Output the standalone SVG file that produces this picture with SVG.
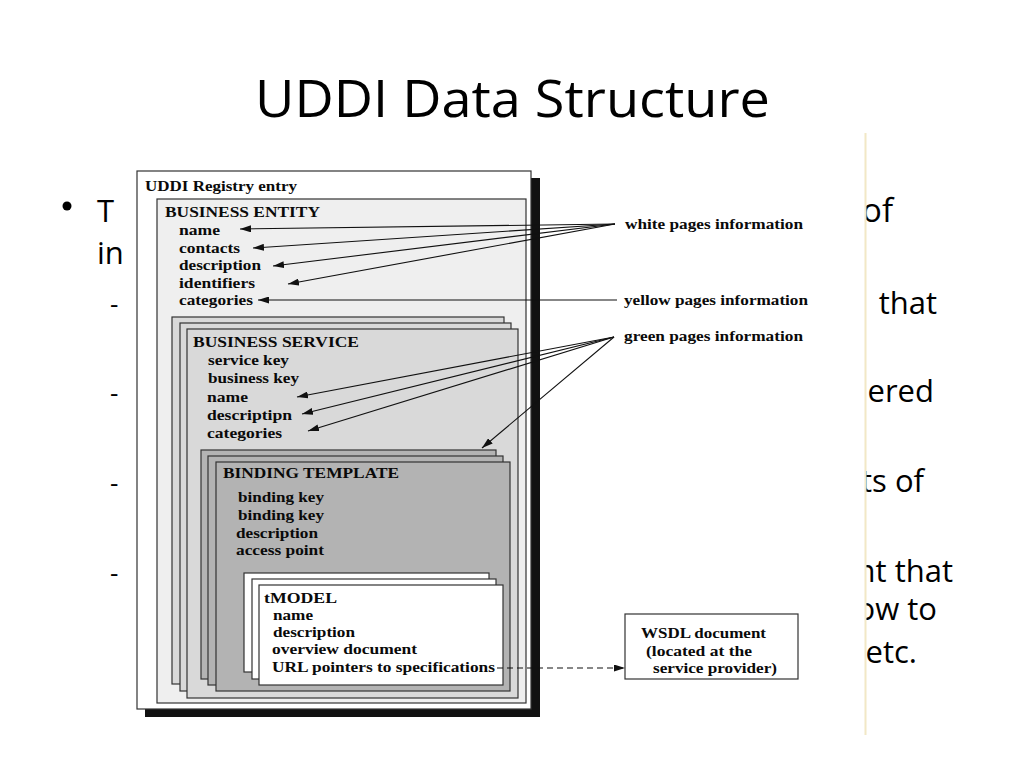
<svg xmlns="http://www.w3.org/2000/svg" width="1024" height="768" viewBox="0 0 1024 768">
<style>
.slide{font-family:"Open Sans","Liberation Sans",sans-serif;fill:#000}
.t{font-family:"Liberation Serif","Times New Roman",serif;font-weight:bold;font-size:14.5px;fill:#0a0a0a}
.box{stroke:#333;stroke-width:1.2}
.white{fill:#ffffff}
.ent{fill:#efefef}
.svc{fill:#d9d9d9}
.bnd{fill:#b3b3b3}
.tm{fill:#ffffff}
.conn{stroke:#111;stroke-width:1.1;fill:none}
.dash{stroke:#111;stroke-width:1.1;fill:none;stroke-dasharray:6 4}
</style>
<defs>
<marker id="ah" markerUnits="userSpaceOnUse" markerWidth="11" markerHeight="7" refX="11" refY="3.5" orient="auto">
<path d="M0,0 L11,3.5 L0,7 z" fill="#111"/>
</marker>
</defs>
<rect x="0" y="0" width="1024" height="768" fill="#ffffff"/>
<g id="slide-title">
<text class="slide" x="255" y="117" font-size="52" textLength="515" lengthAdjust="spacingAndGlyphs">UDDI Data Structure</text>
</g>
<g id="slide-text">
<circle cx="67" cy="206" r="4.5" fill="#000"/>
<text class="slide" x="97" y="222" font-size="31">T</text>
<text class="slide" x="97" y="264" font-size="31">in</text>
<text class="slide" x="893" y="222" font-size="33" text-anchor="end">of</text>
<text class="slide" x="110" y="313" font-size="26">-</text>
<text class="slide" x="110" y="402" font-size="26">-</text>
<text class="slide" x="110" y="492" font-size="26">-</text>
<text class="slide" x="110" y="582" font-size="26">-</text>
<text class="slide" x="937" y="314" font-size="31" text-anchor="end">that</text>
<text class="slide" x="934" y="402" font-size="31" text-anchor="end">ered</text>
<text class="slide" x="924" y="492" font-size="31" text-anchor="end">ts of</text>
<text class="slide" x="953" y="582" font-size="31" text-anchor="end">nt that</text>
<text class="slide" x="937" y="620" font-size="31" text-anchor="end">ow to</text>
<text class="slide" x="917" y="663" font-size="31" text-anchor="end">etc.</text>
</g>
<rect x="122" y="133" width="743" height="602" fill="#ffffff"/>
<line x1="865.5" y1="133" x2="865.5" y2="735" stroke="#f2e8c6" stroke-width="2"/>
<g id="registry">
<rect x="145" y="178" width="395" height="539" fill="#111"/>
<rect class="box white" x="137" y="171" width="394" height="538"/>
<text class="t" x="145" y="191" textLength="152" lengthAdjust="spacingAndGlyphs">UDDI Registry entry</text>
</g>
<g id="business-entity">
<rect class="box ent" x="157" y="199" width="369" height="504"/>
<text class="t" x="165" y="217" textLength="155" lengthAdjust="spacingAndGlyphs">BUSINESS ENTITY</text>
<text class="t" x="179" y="235" textLength="41" lengthAdjust="spacingAndGlyphs">name</text>
<text class="t" x="179" y="253" textLength="61" lengthAdjust="spacingAndGlyphs">contacts</text>
<text class="t" x="179" y="270" textLength="82" lengthAdjust="spacingAndGlyphs">description</text>
<text class="t" x="179" y="288" textLength="76" lengthAdjust="spacingAndGlyphs">identifiers</text>
<text class="t" x="179" y="305" textLength="74" lengthAdjust="spacingAndGlyphs">categories</text>
</g>
<g id="business-service">
<rect class="box svc" x="172" y="317" width="332" height="367"/>
<rect class="box svc" x="180" y="323" width="331" height="368"/>
<rect class="box svc" x="187" y="329" width="331" height="369"/>
<text class="t" x="193" y="347" textLength="166" lengthAdjust="spacingAndGlyphs">BUSINESS SERVICE</text>
<text class="t" x="208" y="365" textLength="81" lengthAdjust="spacingAndGlyphs">service key</text>
<text class="t" x="208" y="383" textLength="91" lengthAdjust="spacingAndGlyphs">business key</text>
<text class="t" x="207" y="402" textLength="41" lengthAdjust="spacingAndGlyphs">name</text>
<text class="t" x="207" y="420" textLength="85" lengthAdjust="spacingAndGlyphs">descriptipn</text>
<text class="t" x="207" y="438" textLength="75" lengthAdjust="spacingAndGlyphs">categories</text>
</g>
<g id="binding-template">
<rect class="box bnd" x="201" y="450" width="295" height="229"/>
<rect class="box bnd" x="208" y="456" width="295" height="229"/>
<rect class="box bnd" x="216" y="462" width="294" height="229"/>
<text class="t" x="223" y="478" textLength="176" lengthAdjust="spacingAndGlyphs">BINDING TEMPLATE</text>
<text class="t" x="238" y="502" textLength="86" lengthAdjust="spacingAndGlyphs">binding key</text>
<text class="t" x="238" y="520" textLength="86" lengthAdjust="spacingAndGlyphs">binding key</text>
<text class="t" x="236" y="538" textLength="82" lengthAdjust="spacingAndGlyphs">description</text>
<text class="t" x="236" y="555" textLength="88" lengthAdjust="spacingAndGlyphs">access point</text>
</g>
<g id="tmodel">
<rect class="box tm" x="244" y="573" width="245" height="99"/>
<rect class="box tm" x="252" y="579" width="244" height="100"/>
<rect class="box tm" x="259" y="585" width="244" height="100"/>
<text class="t" x="264" y="603" textLength="73" lengthAdjust="spacingAndGlyphs">tMODEL</text>
<text class="t" x="273" y="620" textLength="40" lengthAdjust="spacingAndGlyphs">name</text>
<text class="t" x="273" y="637" textLength="82" lengthAdjust="spacingAndGlyphs">description</text>
<text class="t" x="272" y="654" textLength="145" lengthAdjust="spacingAndGlyphs">overview document</text>
<text class="t" x="272" y="672" textLength="223" lengthAdjust="spacingAndGlyphs">URL pointers to specifications</text>
</g>
<g id="wsdl-document">
<rect class="box white" x="625" y="614" width="173" height="65"/>
<text class="t" x="641" y="638" textLength="125" lengthAdjust="spacingAndGlyphs">WSDL document</text>
<text class="t" x="646" y="656" textLength="106" lengthAdjust="spacingAndGlyphs">(located at the</text>
<text class="t" x="653" y="673" textLength="124" lengthAdjust="spacingAndGlyphs">service provider)</text>
</g>
<g id="white-pages">
<text class="t" x="625" y="229" textLength="178" lengthAdjust="spacingAndGlyphs">white pages information</text>
</g>
<g id="yellow-pages">
<text class="t" x="624" y="305" textLength="184" lengthAdjust="spacingAndGlyphs">yellow pages information</text>
</g>
<g id="green-pages">
<text class="t" x="624" y="341" textLength="179" lengthAdjust="spacingAndGlyphs">green pages information</text>
</g>
<g id="connectors">
<line class="conn" x1="615" y1="224" x2="240" y2="229" marker-end="url(#ah)"/>
<line class="conn" x1="615" y1="224" x2="253" y2="248" marker-end="url(#ah)"/>
<line class="conn" x1="615" y1="224" x2="273" y2="266" marker-end="url(#ah)"/>
<line class="conn" x1="615" y1="224" x2="288" y2="284" marker-end="url(#ah)"/>
<line class="conn" x1="617" y1="300" x2="258" y2="300" marker-end="url(#ah)"/>
<line class="conn" x1="614" y1="337" x2="297" y2="397" marker-end="url(#ah)"/>
<line class="conn" x1="614" y1="337" x2="302" y2="414" marker-end="url(#ah)"/>
<line class="conn" x1="614" y1="337" x2="308" y2="431" marker-end="url(#ah)"/>
<line class="conn" x1="614" y1="337" x2="482" y2="448" marker-end="url(#ah)"/>
<line class="dash" x1="497" y1="668" x2="625" y2="668" marker-end="url(#ah)"/>
</g>
</svg>
